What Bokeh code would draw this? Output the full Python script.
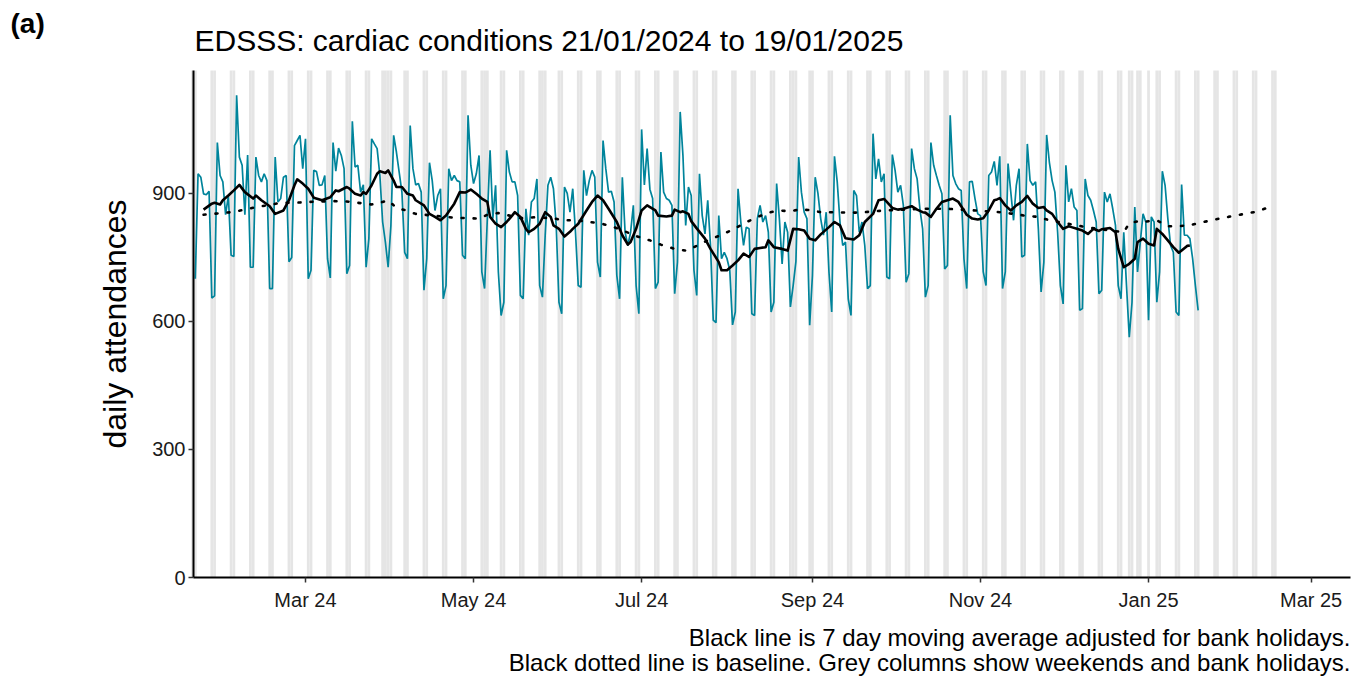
import pandas as pd
from bokeh.plotting import figure
from bokeh.models import (Range1d, FixedTicker, DatetimeTickFormatter, Label, ColumnDataSource)
from bokeh.embed import file_html
from bokeh.resources import INLINE

# ---------------- data ----------------
start_date = "2024-01-21"
end_shading = "2025-02-16"

attendances = [
    700, 946, 938, 899, 897, 905, 655, 660, 1019, 942, 927, 850, 895, 755, 752, 1130, 985, 966, 850, 990,
    727, 727, 985, 942, 927, 946, 930, 677, 677, 985, 880, 888, 938, 942, 740, 750, 1012, 1024, 1036, 958,
    1028, 700, 720, 954, 951, 919, 920, 942, 747, 702, 1019, 952, 1006, 989, 958, 712, 731, 1069, 962, 966,
    903, 920, 727, 794, 1028, 1016, 1005, 942, 833, 786, 727, 825, 1036, 997, 950, 903, 762, 747, 1059, 958,
    920, 923, 903, 673, 747, 972, 930, 860, 895, 911, 653, 684, 958, 930, 942, 930, 927, 755, 747, 1083,
    966, 923, 946, 989, 716, 677, 841, 1001, 841, 919, 716, 614, 645, 1001, 950, 927, 927, 895, 661, 653,
    864, 802, 880, 888, 934, 684, 657, 802, 919, 938, 911, 825, 645, 618, 915, 900, 856, 911, 809, 684,
    680, 954, 895, 930, 954, 938, 739, 704, 1024, 958, 903, 905, 880, 708, 653, 938, 809, 778, 809, 872,
    684, 618, 1050, 920, 1005, 910, 888, 677, 692, 997, 903, 888, 884, 872, 665, 739, 1091, 989, 825, 915,
    895, 720, 661, 946, 848, 805, 884, 778, 603, 597, 848, 747, 762, 747, 720, 592, 622, 911, 833, 778,
    821, 817, 618, 614, 841, 872, 833, 848, 809, 622, 645, 923, 841, 735, 833, 809, 634, 684, 740, 985,
    903, 856, 841, 591, 708, 938, 900, 841, 802, 856, 716, 622, 987, 927, 833, 778, 786, 653, 614, 907,
    895, 809, 833, 778, 677, 684, 1040, 934, 981, 927, 946, 704, 700, 991, 954, 903, 919, 872, 692, 712,
    1005, 958, 934, 864, 817, 657, 684, 1019, 966, 942, 919, 899, 723, 731, 1083, 942, 923, 911, 907, 747,
    677, 927, 928, 888, 852, 848, 716, 684, 942, 950, 975, 919, 987, 677, 716, 970, 903, 837, 919, 958,
    751, 755, 1016, 930, 919, 927, 817, 669, 739, 1037, 973, 930, 903, 809, 684, 641, 966, 880, 911, 868,
    860, 626, 630, 934, 895, 884, 860, 833, 665, 673, 903, 880, 899, 864, 825, 684, 653, 809, 684, 563,
    645, 868, 716, 786, 852, 833, 603, 845, 833, 645, 716, 952, 919, 841, 778, 762, 622, 614, 921, 802,
    802, 794, 747, 684, 626,
]

# 7 day moving average, day offsets from start_date
ma_days = [3, 6, 7, 9, 10, 12, 14, 16, 18, 21, 22, 24, 27, 29, 32, 34, 36, 37, 39, 41,
           43, 46, 49, 51, 52, 55, 56, 58, 60, 61, 62, 64, 66, 67, 69, 70, 72, 73, 75, 77,
           79, 80, 83, 85, 87, 89, 91, 94, 96, 98, 100, 102, 104, 106, 107, 109, 111, 113, 115, 116,
           118, 120, 121, 123, 125, 127, 129, 130, 132, 134, 136, 137, 139, 142, 144, 146, 148, 150, 153, 155,
           157, 158, 160, 162, 164, 167, 168, 171, 173, 174, 176, 177, 179, 180, 182, 185, 187, 190, 191, 193,
           195, 197, 199, 201, 203, 205, 207, 208, 210, 213, 215, 217, 219, 221, 223, 225, 227, 230, 232, 234,
           236, 239, 241, 243, 246, 248, 250, 251, 253, 255, 257, 260, 262, 264, 265, 267, 269, 271, 273, 275,
           277, 279, 280, 282, 284, 286, 288, 290, 291, 292, 294, 296, 298, 300, 302, 304, 306, 308, 309, 311,
           313, 315, 317, 318, 320, 322, 324, 326, 328, 329, 332, 334, 335, 337, 339, 341, 342, 344, 346, 348,
           349, 351, 353, 355, 357, 358, 360, 361]
ma_values = [862, 876, 878, 874, 884, 895, 907, 920, 903, 888, 895, 884, 870, 852, 860, 884, 919, 933, 923, 911,
             890, 884, 891, 907, 905, 915, 911, 899, 895, 903, 899, 919, 946, 952, 948, 954, 930, 915, 915, 899,
             895, 884, 872, 852, 845, 837, 848, 876, 903, 902, 909, 899, 888, 880, 845, 829, 821, 833, 848, 856,
             845, 817, 809, 817, 829, 856, 845, 825, 817, 799, 810, 817, 829, 860, 880, 895, 884, 864, 833, 802,
             780, 786, 817, 860, 872, 860, 848, 846, 848, 862, 856, 858, 852, 835, 818, 794, 770, 739, 720, 720,
             731, 743, 759, 751, 770, 772, 774, 790, 774, 770, 766, 817, 816, 813, 794, 790, 804, 821, 833, 825,
             795, 792, 802, 833, 852, 884, 887, 880, 866, 862, 864, 870, 862, 856, 855, 845, 864, 880, 884, 888,
             880, 860, 850, 841, 839, 842, 860, 884, 886, 889, 872, 860, 872, 880, 894, 876, 866, 868, 860, 852,
             833, 817, 823, 821, 817, 813, 805, 817, 812, 816, 819, 809, 770, 727, 735, 747, 786, 794, 782, 778,
             817, 805, 790, 774, 761, 766, 777, 778]

# baseline, day offsets from start_date
baseline_days = [3, 13, 18, 22, 27, 31, 36, 41, 50, 55, 59, 64, 68, 70, 73, 76, 80, 94, 99, 103,
                 106, 110, 118, 123, 130, 133, 138, 143, 147, 152, 156, 160, 165, 169, 174, 178, 182, 186, 191, 195,
                 199, 203, 208, 212, 216, 219, 223, 227, 231, 236, 241, 250, 264, 273, 283, 292, 297, 301, 306, 310,
                 315, 320, 324, 337, 339, 343, 345, 349, 353, 357, 362, 366, 371, 375, 380, 385, 389]
baseline_values = [850, 856, 862, 868, 873, 878, 878, 880, 882, 881, 878, 874, 880, 884, 866, 861, 852, 843, 842, 841,
                   850, 854, 842, 844, 842, 837, 837, 833, 830, 821, 811, 800, 790, 780, 770, 766, 777, 790, 803, 815,
                   829, 842, 855, 860, 858, 862, 861, 856, 856, 855, 855, 860, 864, 864, 860, 856, 852, 848, 845, 837,
                   831, 825, 820, 809, 830, 836, 834, 837, 823, 823, 827, 833, 840, 845, 851, 857, 866]

bank_holidays = ["2024-03-29", "2024-04-01", "2024-05-06", "2024-05-27",
                 "2024-08-26", "2024-12-25", "2024-12-26", "2025-01-01"]

x_tick_dates = ["2024-03-01", "2024-05-01", "2024-07-01", "2024-09-01",
                "2024-11-01", "2025-01-01", "2025-03-01"]
y_ticks = [0, 300, 600, 900]

title_text = "EDSSS: cardiac conditions 21/01/2024 to 19/01/2025"
panel_tag = "(a)"
y_label = "daily attendances"
caption_1 = "Black line is 7 day moving average adjusted for bank holidays."
caption_2 = "Black dotted line is baseline. Grey columns show weekends and bank holidays."

# ---------------- layout geometry (pixels) ----------------
W, H = 1365, 677
PLOT_L, PLOT_R, PLOT_T, PLOT_B = 193, 1350, 70, 577
DAY_LO, DAY_HI = -0.65, 419.3      # visible data window in days from start
Y_TOP = 1188                       # visible data window top

FONT = "Liberation Sans"
t0 = pd.Timestamp(start_date)
sx = (PLOT_R - PLOT_L) / (DAY_HI - DAY_LO)     # px per day
sy = (PLOT_B - PLOT_T) / Y_TOP                 # px per unit


def px_to_date(px):
    return t0 + pd.Timedelta(days=DAY_LO + (px - PLOT_L) / sx)


def py_to_val(py):
    return (PLOT_B - py) / sy


def ms(ts):
    return pd.Timestamp(ts).value / 1e6


dates = pd.date_range(t0, periods=len(attendances), freq="D")
ma_dates = t0 + pd.to_timedelta(ma_days, unit="D")
bl_dates = t0 + pd.to_timedelta(baseline_days, unit="D")

all_days = pd.date_range(t0 - pd.Timedelta(days=1), pd.Timestamp(end_shading), freq="D")
bh = set(pd.to_datetime(bank_holidays))
shade = [d for d in all_days if d.dayofweek >= 5 or d in bh]
DAY_MS = 86400000

x_lo = t0 + pd.Timedelta(days=DAY_LO)
x_hi = t0 + pd.Timedelta(days=DAY_HI)

p = figure(width=W, height=H, output_backend="svg", toolbar_location=None,
           x_axis_type="datetime",
           x_range=Range1d(px_to_date(0), px_to_date(W)),
           y_range=Range1d(py_to_val(H), py_to_val(0)),
           min_border_left=0, min_border_right=0, min_border_top=0, min_border_bottom=0)
p.background_fill_color = "white"
p.border_fill_color = "white"
p.outline_line_color = None
p.xgrid.grid_line_color = None
p.ygrid.grid_line_color = None

shade_src = ColumnDataSource(dict(x=shade, top=[Y_TOP] * len(shade)))
p.vbar(x="x", top="top", bottom=0, width=DAY_MS, source=shade_src,
       fill_color="#e5e5e5", line_color=None)

p.line(dates, attendances, line_color="#00849b", line_width=1.7)
p.line(bl_dates, baseline_values, line_color="black", line_width=2.6, line_dash="2 10",
       line_cap="round")
p.line(ma_dates, ma_values, line_color="black", line_width=2.6, line_join="round")

# axes pinned to the data window
p.xaxis.fixed_location = 0
p.xaxis.bounds = (ms(x_lo), ms(x_hi))
p.yaxis.fixed_location = ms(x_lo)
p.yaxis.bounds = (0, Y_TOP)

for ax in (p.xaxis[0], p.yaxis[0]):
    ax.axis_line_color = "black"
    ax.axis_line_width = 2
    ax.major_tick_line_color = "#333333"
    ax.major_tick_line_width = 1.5
    ax.major_tick_out = 5
    ax.major_tick_in = 0
    ax.minor_tick_line_color = None
    ax.major_label_text_font = FONT
    ax.major_label_text_font_size = "20px"
    ax.major_label_text_color = "#1a1a1a"

p.xaxis.ticker = FixedTicker(ticks=[ms(d) for d in x_tick_dates])
fmt = "%b %y"
p.xaxis.formatter = DatetimeTickFormatter(milliseconds=fmt, seconds=fmt, minsec=fmt, minutes=fmt,
                                          hourmin=fmt, hours=fmt, days=fmt, months=fmt, years=fmt)
p.xaxis.major_label_standoff = 6
p.yaxis.ticker = FixedTicker(ticks=y_ticks)
p.yaxis.major_label_standoff = 3
p.yaxis.axis_label = y_label
p.yaxis.axis_label_text_font = FONT
p.yaxis.axis_label_text_font_size = "32px"
p.yaxis.axis_label_text_font_style = "normal"
p.yaxis.axis_label_text_color = "black"
p.yaxis.axis_label_standoff = 16

# texts (baselines compensated for the renderer's label placement)
p.add_layout(Label(x=px_to_date(10), y=py_to_val(23), text=panel_tag, text_font=FONT,
                   text_font_size="28px", text_font_style="bold", text_color="black",
                   text_align="left", text_baseline="alphabetic"))
p.add_layout(Label(x=px_to_date(194), y=py_to_val(40), text=title_text, text_font=FONT,
                   text_font_size="30px", text_font_style="normal", text_color="black",
                   text_align="left", text_baseline="alphabetic"))
p.add_layout(Label(x=px_to_date(1350), y=py_to_val(637), text=caption_1, text_font=FONT,
                   text_font_size="24px", text_color="black",
                   text_align="right", text_baseline="alphabetic"))
p.add_layout(Label(x=px_to_date(1350), y=py_to_val(662), text=caption_2, text_font=FONT,
                   text_font_size="24px", text_color="black",
                   text_align="right", text_baseline="alphabetic"))

open("out.html", "w").write(file_html(p, INLINE))
